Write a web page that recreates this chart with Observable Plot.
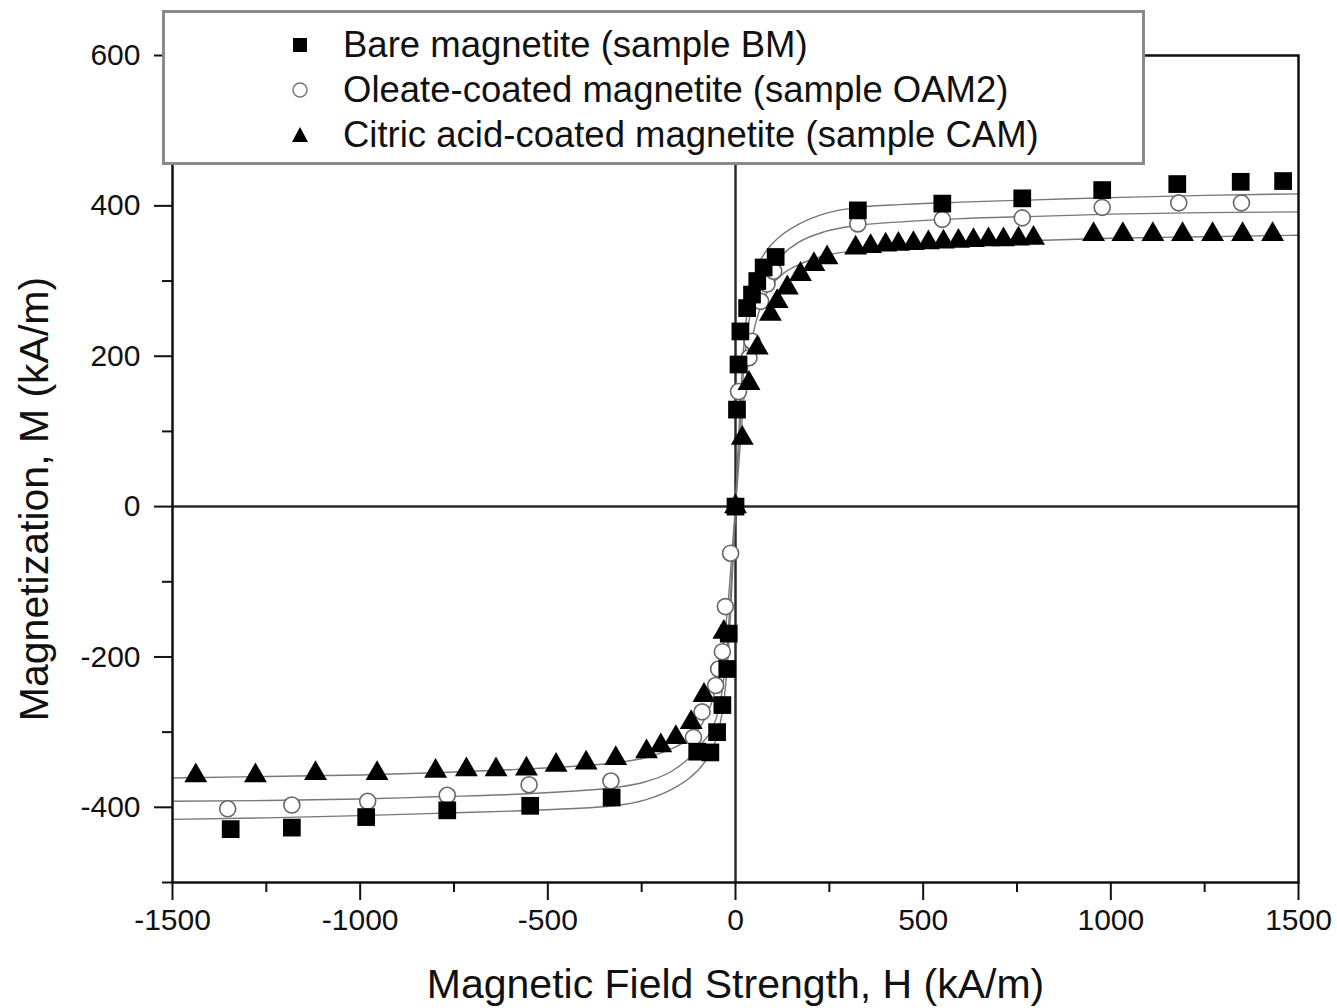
<!DOCTYPE html>
<html>
<head>
<meta charset="utf-8">
<script src="https://cdn.jsdelivr.net/npm/d3@7"></script>
<script src="https://cdn.jsdelivr.net/npm/@observablehq/plot@0.6"></script>
<style>
  body { margin: 0; background: #fff; font-family: "Liberation Sans", Arial, sans-serif; }
  #wrap { position: relative; width: 1337px; height: 1008px; overflow: hidden; }
  #legend { position: absolute; left: 162px; top: 10px; width: 977px; height: 149px;
            border: 3px solid #8a8a8a; background: #fff; }
  .row { position: absolute; left: 0; width: 100%; height: 44px; }
  .row svg { position: absolute; left: 123px; top: 12px; }
  .row span { position: absolute; left: 178px; top: 0; font-size: 36.5px; line-height: 44px; color: #111; white-space: nowrap; }
</style>
</head>
<body>
<div id="wrap"><div id="chart"></div><div id="legend"></div></div>
<script>
// ---- Data ----
const seriesNames = [
  "Bare magnetite (sample BM)",
  "Oleate-coated magnetite (sample OAM2)",
  "Citric acid-coated magnetite (sample CAM)"
];

// Bare magnetite (squares)
const bmH = [-1345,-1182,-984,-768,-547,-330,-102,-67,-49,-35,-22,-18,0,4,8,13,31,44,58,75,107,326,551,764,977,1177,1346,1459];
const bmM = [-429,-427,-413,-404,-398,-387,-326,-327,-300,-264,-216,-169,0,129,189,233,264,282,300,318,332,394,403,410,421,429,432,433];

// Oleate-coated magnetite (open circles)
const oamH = [-1353,-1182,-980,-768,-550,-332,-112,-89,-53,-45,-35,-27,-13,0,8,36,44,67,84,102,326,551,764,977,1181,1348];
const oamM = [-402,-397,-392,-384,-370,-365,-307,-273,-238,-216,-193,-133,-62,0,153,198,220,273,296,313,376,382,384,398,404,404];

// Citric acid-coated magnetite (triangles)
const camH = [-1438,-1279,-1119,-955,-799,-717,-638,-557,-478,-398,-319,-237,-199,-159,-118,-84,-31,0,18,36,58,93,111,138,173,209,244,320,360,400,434,474,514,554,594,634,674,714,754,794,954,1032,1112,1191,1271,1351,1431];
const camM = [-358,-358,-355,-355,-352,-350,-350,-349,-344,-341,-335,-326,-318,-307,-287,-251,-167,0,91,164,211,256,273,291,309,322,331,344,346,348,349,350,351,352,353,354,355,355,356,357,362,362,362,362,362,362,362];

// Fitted curves (thin grey lines)
const fitH   = [-1500,-1250,-1000,-800,-600,-450,-325,-240,-170,-125,-90,-65,-45,-30,-20,-10,0,10,20,30,45,65,90,125,170,240,325,450,600,800,1000,1250,1500];
const bmFitM = [-416,-414,-411,-408,-405,-402,-398,-390,-376,-362,-345,-326,-298,-255,-200,-110,0,110,200,255,298,326,345,362,376,390,398,402,405,408,411,414,416];
const oamFitM= [-392,-391,-389,-386,-383,-379,-374,-366,-352,-335,-315,-298,-270,-225,-170,-90,0,90,170,225,270,298,315,335,352,366,374,379,383,386,389,391,392];
const camFitM= [-361,-359,-357,-354,-350,-346,-341,-334,-322,-309,-290,-263,-225,-175,-130,-65,0,65,130,175,225,263,290,309,322,334,341,346,350,354,357,359,361];

// Ticks
const xMajor = [-1500,-1000,-500,0,500,1000,1500];
const xMinor = [-1250,-750,-250,250,750,1250];
const yMajor = [-400,-200,0,200,400,600];
const yMinor = [-500,-300,-100,100,300,500];

// ---- Build tables ----
const toRows = (H, M) => H.map((h, i) => ({H: h, M: M[i]}));
const bm = toRows(bmH, bmM);
const oam = toRows(oamH, oamM);
const cam = toRows(camH, camM);
const bmFit = toRows(fitH, bmFitM);
const oamFit = toRows(fitH, oamFitM);
const camFit = toRows(fitH, camFitM);

const fmt = d => String(d);

const chart = Plot.plot({
  width: 1337,
  height: 1008,
  marginLeft: 172,
  marginRight: 39,
  marginTop: 55,
  marginBottom: 126,
  style: { fontFamily: '"Liberation Sans", Arial, sans-serif', fontSize: "30px", color: "#111", background: "#fff", overflow: "visible" },
  x: { domain: [-1500, 1500] },
  y: { domain: [-500, 600] },
  marks: [
    Plot.ruleY([0], { stroke: "#2a2a2a", strokeWidth: 2.5 }),
    Plot.ruleX([0], { stroke: "#2a2a2a", strokeWidth: 2.5 }),
    Plot.line(bmFit, { x: "H", y: "M", stroke: "#777", strokeWidth: 1.4, curve: "monotone-x" }),
    Plot.line(oamFit, { x: "H", y: "M", stroke: "#777", strokeWidth: 1.4, curve: "monotone-x" }),
    Plot.line(camFit, { x: "H", y: "M", stroke: "#777", strokeWidth: 1.4, curve: "monotone-x" }),
    Plot.dot(oam, { x: "H", y: "M", symbol: "circle", r: 8, fill: "white", stroke: "#666", strokeWidth: 1.6 }),
    Plot.dot(bm, { x: "H", y: "M", symbol: "square", r: 10, fill: "black", stroke: "none" }),
    Plot.dot(cam, { x: "H", y: "M", symbol: "triangle", r: 8.5, fill: "black", stroke: "none" }),
    Plot.frame({ stroke: "#111", strokeWidth: 2.5 }),
    Plot.axisX({ ticks: xMajor, tickSize: 18, tickPadding: 8, tickFormat: fmt, strokeWidth: 2,
      label: "Magnetic Field Strength, H (kA/m)", labelAnchor: "center", labelArrow: "none", labelOffset: 115 }),
    Plot.axisX({ ticks: xMinor, tickSize: 10, tickFormat: () => "", strokeWidth: 2, label: null }),
    Plot.axisY({ ticks: yMajor, tickSize: 18, tickPadding: 14, tickFormat: fmt, strokeWidth: 2,
      label: "Magnetization, M (kA/m)", labelAnchor: "center", labelArrow: "none", labelOffset: 154 }),
    Plot.axisY({ ticks: yMinor, tickSize: 10, tickFormat: () => "", strokeWidth: 2, label: null })
  ]
});
// bigger axis titles; y title sits a little below the plot centre in the reference
chart.querySelectorAll("g[aria-label='x-axis label'] text, g[aria-label='y-axis label'] text").forEach(t => t.setAttribute("font-size", "41"));
chart.querySelectorAll("g[aria-label='y-axis label']").forEach(g => {
  const prev = g.getAttribute("transform") || "";
  g.setAttribute("transform", prev + " translate(0,30)");
});
document.getElementById("chart").appendChild(chart);

// ---- Legend ----
const legend = document.getElementById("legend");
const symbols = [
  '<svg width="24" height="20" viewBox="-12 -10 24 20"><rect x="-7" y="-7" width="14" height="14" fill="black"/></svg>',
  '<svg width="24" height="20" viewBox="-12 -10 24 20"><circle r="7" fill="white" stroke="#777" stroke-width="1.5"/></svg>',
  '<svg width="24" height="20" viewBox="-12 -10 24 20"><path d="M0,-8L8,7L-8,7Z" fill="black"/></svg>'
];
seriesNames.forEach((name, i) => {
  const row = document.createElement("div");
  row.className = "row";
  row.style.top = (10 + i * 45) + "px";
  row.innerHTML = symbols[i] + "<span>" + name + "</span>";
  legend.appendChild(row);
});
</script>
</body>
</html>
